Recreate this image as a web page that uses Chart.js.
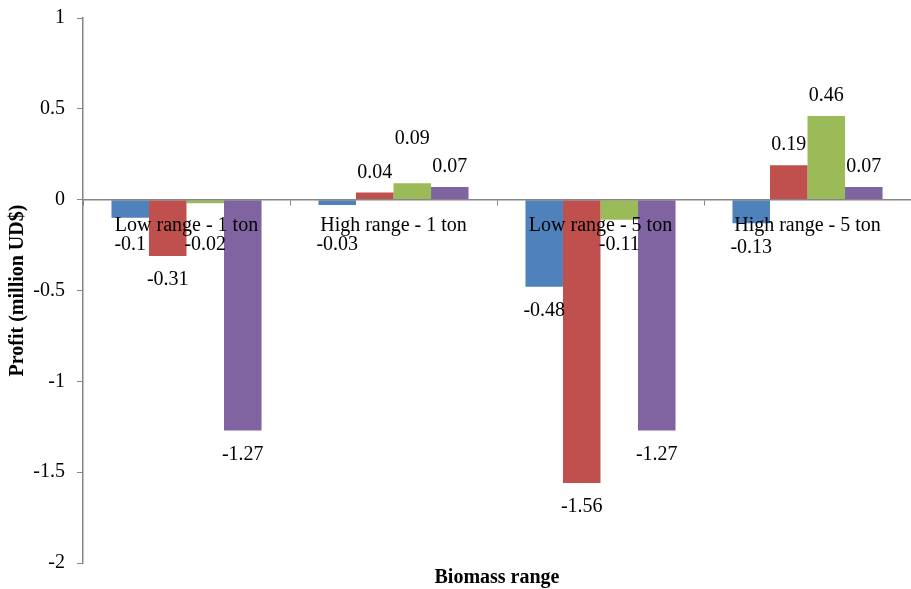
<!DOCTYPE html>
<html>
<head>
<meta charset="utf-8">
<script src="https://cdn.jsdelivr.net/npm/chart.js@4"></script>
<style>
  body { margin: 0; background: #fff; }
  #wrap { width: 911px; height: 589px; }
</style>
</head>
<body>
<div id="wrap"><canvas id="profitChart" width="911" height="589"></canvas></div>
<script>
// chart data
const categories = ['Low range - 1 ton', 'High range - 1 ton', 'Low range - 5 ton', 'High range - 5 ton'];
const seriesA = [-0.10, -0.03, -0.48, -0.13];
const seriesB = [-0.31, 0.04, -1.56, 0.19];
const seriesC = [-0.02, 0.09, -0.11, 0.46];
const seriesD = [-1.27, 0.07, -1.27, 0.07];
const yTicks = [-2, -1.5, -1, -0.5, 0, 0.5, 1];

const serif = '"Liberation Serif", "Times New Roman", serif';

// draws the value labels like Excel "outside end"
const valueLabels = {
    id: 'valueLabels',
    afterDatasetsDraw(chart) {
        const c = chart.ctx;
        const zeroY = chart.scales.y.getPixelForValue(0);
        c.save();
        c.font = '20px ' + serif;
        c.fillStyle = '#000';
        c.textAlign = 'center';
        c.textBaseline = 'middle';
        const n = chart.data.labels.length;
        for (let j = 0; j < n; j++) {
            let prevTy = null;
            chart.data.datasets.forEach((ds, i) => {
                const bar = chart.getDatasetMeta(i).data[j];
                const v = ds.data[j];
                let ty;
                if (v < 0) {
                    ty = Math.max(bar.y + 24, zeroY + 45);
                } else {
                    ty = bar.y - 20;
                    // lift a label that would collide with its left neighbour
                    if (prevTy !== null && Math.abs(ty - prevTy) < 22) ty = prevTy - 34;
                    prevTy = ty;
                }
                c.fillText(String(v), bar.x, ty);
            });
        }
        c.restore();
    }
};

// x axis title at the bottom (x axis itself sits on the zero line)
const bottomTitle = {
    id: 'bottomTitle',
    afterDraw(chart) {
        const c = chart.ctx;
        const area = chart.chartArea;
        c.save();
        c.font = 'bold 20px ' + serif;
        c.fillStyle = '#000';
        c.textAlign = 'center';
        c.textBaseline = 'middle';
        c.fillText('Biomass range', (area.left + area.right) / 2, 578);
        c.restore();
    }
};

const ctx = document.getElementById('profitChart').getContext('2d');

const profitChart = new Chart(ctx, {
    type: 'bar',
    data: {
        labels: categories,
        datasets: [
            { label: 'A', data: seriesA, backgroundColor: '#4F81BD' },
            { label: 'B', data: seriesB, backgroundColor: '#C0504D' },
            { label: 'C', data: seriesC, backgroundColor: '#9BBB59' },
            { label: 'D', data: seriesD, backgroundColor: '#8064A2' }
        ]
    },
    options: {
        responsive: false,
        animation: false,
        categoryPercentage: 0.725,
        barPercentage: 1,
        layout: { padding: { top: 18, bottom: 26, right: 0, left: 0 } },
        plugins: {
            legend: { display: false },
            tooltip: { enabled: false }
        },
        scales: {
            x: {
                position: { y: 0 },
                grid: { drawOnChartArea: false, offset: true, tickLength: 5, color: '#868686', z: 1 },
                border: { color: '#868686', width: 1.5, z: 1 },
                ticks: {
                    color: '#000',
                    font: { family: serif, size: 20 },
                    padding: 9,
                    maxRotation: 0,
                    autoSkip: false,
                    z: 1
                }
            },
            y: {
                min: -2,
                max: 1,
                afterBuildTicks: (scale) => { scale.ticks = yTicks.map(v => ({ value: v })); },
                afterFit: (scale) => {
                    scale.width = 83;
                    scale.paddingTop = 0;
                    scale.paddingBottom = 0;
                },
                grid: { drawOnChartArea: false, tickLength: 6, color: '#868686' },
                border: { color: '#868686', width: 1.5 },
                ticks: {
                    color: '#000',
                    font: { family: serif, size: 20 },
                    padding: 12,
                    callback: (v) => String(v)
                },
                title: {
                    display: true,
                    text: 'Profit (million UD$)',
                    color: '#000',
                    font: { family: serif, size: 20, weight: 'bold' },
                    padding: { top: 6, bottom: 0 }
                }
            }
        }
    },
    plugins: [valueLabels, bottomTitle]
});
</script>
</body>
</html>
